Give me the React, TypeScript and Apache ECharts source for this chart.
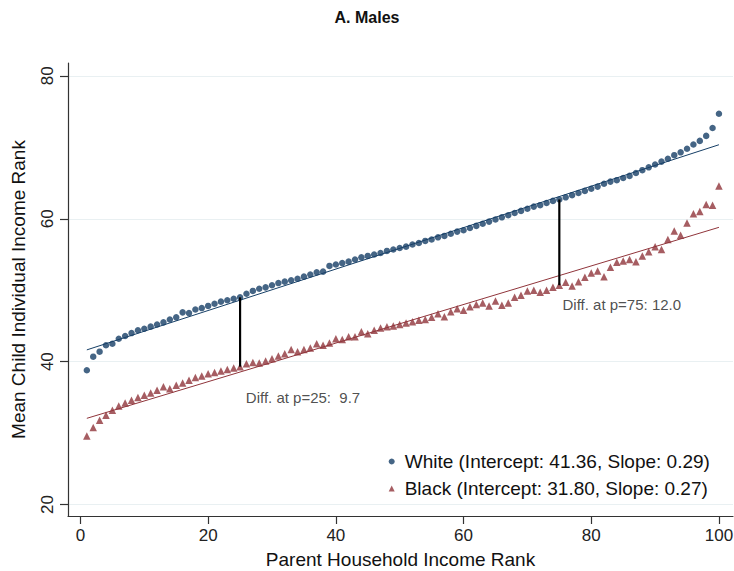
import React, { useEffect, useRef } from "react";
import * as echarts from "echarts";

const FONT = "'Liberation Sans', Arial, sans-serif";

// Parent income percentiles 1..100
const percentiles: number[] = Array.from({ length: 100 }, (_, i) => i + 1);

const whiteValues: number[] = [
  38.8, 40.7, 41.4, 42.3, 42.5, 43.2, 43.6, 44.0, 44.4, 44.6,
  44.9, 45.2, 45.5, 45.9, 46.2, 46.9, 46.8, 47.3, 47.5, 47.8,
  48.1, 48.4, 48.6, 48.8, 49.0, 49.5, 49.9, 50.2, 50.4, 50.7,
  51.0, 51.2, 51.4, 51.6, 51.9, 52.2, 52.5, 52.6, 53.4, 53.6,
  53.8, 54.0, 54.3, 54.6, 54.8, 55.0, 55.2, 55.5, 55.7, 55.9,
  56.1, 56.4, 56.6, 56.9, 57.1, 57.4, 57.6, 57.9, 58.2, 58.4,
  58.7, 59.0, 59.3, 59.6, 59.9, 60.2, 60.5, 60.8, 61.1, 61.4,
  61.7, 61.9, 62.2, 62.5, 62.7, 63.0, 63.3, 63.6, 63.9, 64.2,
  64.5, 64.9, 65.2, 65.4, 65.7, 66.0, 66.4, 66.8, 67.2, 67.6,
  68.0, 68.4, 68.9, 69.3, 69.8, 70.4, 70.9, 71.6, 72.7, 74.7,
];

const blackValues: number[] = [
  29.6, 30.8, 31.8, 32.5, 33.2, 33.8, 34.2, 34.6, 35.0, 35.3,
  35.6, 36.0, 36.5, 36.2, 36.7, 37.0, 37.4, 37.8, 38.0, 38.3,
  38.5, 38.7, 38.9, 39.1, 39.3, 39.7, 39.9, 39.8, 40.1, 40.4,
  40.8, 41.1, 41.7, 41.4, 41.7, 41.9, 42.5, 42.3, 42.6, 43.2,
  43.1, 43.5, 43.5, 44.2, 43.9, 44.4, 44.7, 44.9, 45.0, 45.2,
  45.4, 45.6, 45.8, 45.9, 46.2, 46.7, 46.3, 47.0, 47.4, 47.2,
  47.7, 48.0, 48.2, 47.8, 48.5, 47.9, 48.2, 49.0, 49.3, 49.9,
  50.0, 49.7, 50.0, 50.4, 50.7, 51.1, 50.6, 51.2, 51.8, 52.4,
  52.7, 51.9, 53.2, 53.9, 54.1, 54.3, 54.0, 54.8, 55.4, 56.1,
  55.7, 57.1, 58.3, 57.7, 59.4, 60.7, 61.0, 62.0, 61.9, 64.6,
];

// Fitted line end points [percentile, rank]
const whiteFit: number[][] = [[1, 41.65], [100, 70.36]];
const blackFit: number[][] = [[1, 32.07], [100, 58.8]];

const seriesNames: string[] = [
  "White (Intercept: 41.36, Slope: 0.29)",
  "Black (Intercept: 31.80, Slope: 0.27)",
];

const diffPercentiles: number[] = [25, 75];
const annotationTexts: string[] = ["Diff. at p=25:  9.7", "Diff. at p=75: 12.0"];
const annotationX: number[] = [25.9, 75.5];
const annotationY: number[] = [35.0, 48.0];

const xTicks: number[] = [0, 20, 40, 60, 80, 100];
const yTicks: number[] = [20, 40, 60, 80];

const WHITE_COLOR = "#163f66";
const BLACK_COLOR = "#90353b";

export default function App() {
  const ref = useRef<HTMLDivElement>(null);

  useEffect(() => {
    document.body.style.margin = "0";
    if (!ref.current) return;
    const chart = echarts.init(ref.current, null, { renderer: "svg" });

    const diffSeries = diffPercentiles.map((p) => {
      const idx = percentiles.indexOf(p);
      return {
        type: "line",
        data: [
          [p, whiteValues[idx]],
          [p, blackValues[idx]],
        ],
        symbol: "none",
        silent: true,
        lineStyle: { color: "#000", width: 2.2 },
        z: 4,
      };
    });

    const option: any = {
      animation: false,
      backgroundColor: "#ffffff",
      title: {
        text: "A. Males",
        left: "center",
        top: 9,
        padding: 0,
        textStyle: { fontFamily: FONT, fontSize: 16, fontWeight: "bold", color: "#111" },
      },
      grid: {
        left: 68,
        right: 1,
        top: 63,
        bottom: 55,
        containLabel: false,
        outerBoundsMode: "none",
      },
      legend: {
        orient: "vertical",
        left: 388.7,
        top: 452,
        padding: 0,
        itemWidth: 6,
        itemHeight: 6,
        itemGap: 8,
        symbolKeepAspect: true,
        selectedMode: false,
        data: seriesNames,
        textStyle: { fontFamily: FONT, fontSize: 19, color: "#111", padding: [0, 0, 0, 5] },
      },
      xAxis: {
        type: "value",
        min: -1.95,
        max: 102.2,
        name: "Parent Household Income Rank",
        nameLocation: "middle",
        nameGap: 34,
        nameTextStyle: { fontFamily: FONT, fontSize: 19, color: "#111" },
        axisLine: { show: true, onZero: false, lineStyle: { color: "#333", width: 1.2 } },
        axisTick: {
          show: true,
          length: 8,
          customValues: xTicks,
          lineStyle: { color: "#333", width: 1.2 },
        },
        axisLabel: {
          customValues: xTicks,
          margin: 11,
          fontFamily: FONT,
          fontSize: 17,
          color: "#222",
        },
        splitLine: { show: false },
      },
      yAxis: {
        type: "value",
        min: 18.4,
        max: 81.8,
        name: "Mean Child Individual Income Rank",
        nameLocation: "middle",
        nameGap: 40,
        nameRotate: 90,
        nameTextStyle: { fontFamily: FONT, fontSize: 19, color: "#111" },
        axisLine: { show: true, onZero: false, lineStyle: { color: "#333", width: 1.2 } },
        axisTick: {
          show: true,
          length: 8,
          customValues: yTicks,
          lineStyle: { color: "#333", width: 1.2 },
        },
        axisLabel: {
          customValues: yTicks,
          rotate: 90,
          margin: 12,
          fontFamily: FONT,
          fontSize: 17,
          color: "#222",
        },
        splitLine: { show: true, lineStyle: { color: "#e9f0f2", width: 1 } },
      },
      series: [
        {
          name: seriesNames[0],
          type: "scatter",
          symbol: "circle",
          symbolSize: 6.5,
          itemStyle: { color: WHITE_COLOR },
          data: percentiles.map((p, i) => [p, whiteValues[i]]),
          z: 3,
        },
        {
          name: seriesNames[1],
          type: "scatter",
          symbol: "triangle",
          symbolSize: 7.5,
          itemStyle: { color: BLACK_COLOR },
          data: percentiles.map((p, i) => [p, blackValues[i]]),
          z: 3,
        },
        {
          type: "line",
          data: whiteFit,
          symbol: "none",
          silent: true,
          lineStyle: { color: WHITE_COLOR, width: 1 },
          z: 2,
        },
        {
          type: "line",
          data: blackFit,
          symbol: "none",
          silent: true,
          lineStyle: { color: BLACK_COLOR, width: 1 },
          z: 2,
        },
        ...diffSeries,
        {
          type: "scatter",
          symbolSize: 0,
          silent: true,
          data: annotationX.map((x, i) => ({ value: [x, annotationY[i]], name: annotationTexts[i] })),
          label: {
            show: true,
            position: "right",
            distance: 0,
            formatter: (p: any) => p.name,
            fontFamily: FONT,
            fontSize: 15,
            color: "#222",
          },
          z: 5,
        },
      ],
    };

    chart.setOption(option);
    return () => chart.dispose();
  }, []);

  return <div ref={ref} style={{ width: 734, height: 571 }} />;
}
